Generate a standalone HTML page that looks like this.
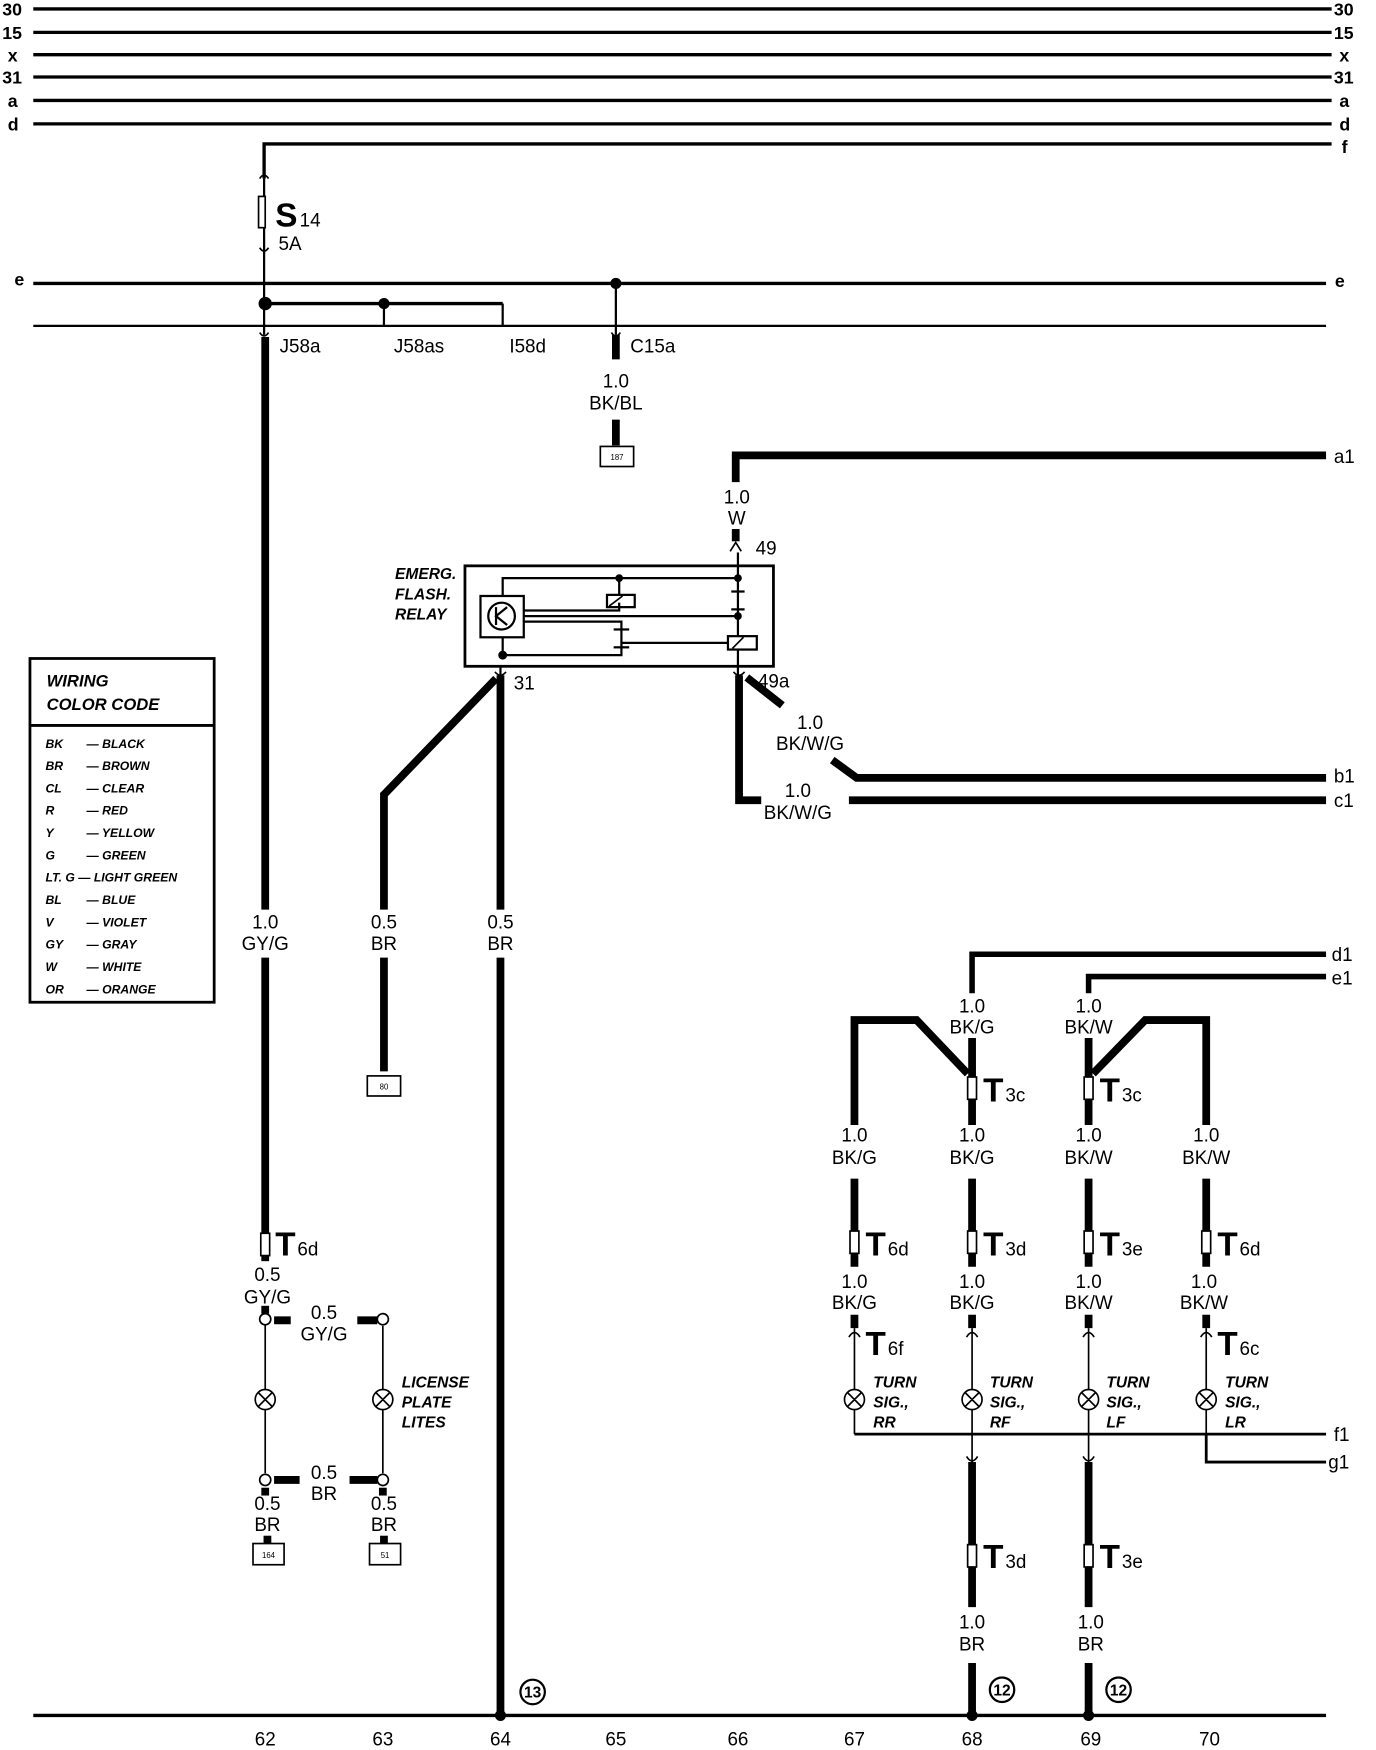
<!DOCTYPE html>
<html><head><meta charset="utf-8"><style>
html,body{margin:0;padding:0;background:#fff;}
svg{display:block;}
text{font-family:"Liberation Sans",sans-serif;fill:#000;}
.l{font-size:17px;text-anchor:middle;}
.b{font-size:17px;font-weight:bold;}
.it{font-size:14px;font-weight:bold;font-style:italic;}
.cc{font-size:11px;font-style:italic;font-weight:bold;}
.T{font-size:30px;font-weight:bold;}
.sub{font-size:17px;}
</style></head><body>
<svg width="1376" height="1750" viewBox="0 0 1240 1568" preserveAspectRatio="none" xmlns="http://www.w3.org/2000/svg">
<g stroke="#000" fill="none">
<g stroke-width="3">
<line x1="30" y1="8" x2="1200" y2="8"/><line x1="30" y1="29" x2="1200" y2="29"/>
<line x1="30" y1="49" x2="1200" y2="49"/><line x1="30" y1="69" x2="1200" y2="69"/>
<line x1="30" y1="90" x2="1200" y2="90"/><line x1="30" y1="111" x2="1200" y2="111"/>
<polyline points="238,160 238,129 1200,129"/>
<line x1="30" y1="254" x2="1195" y2="254"/>
<line x1="30" y1="292" x2="1195" y2="292" stroke-width="2"/>
<line x1="30" y1="1537" x2="1195" y2="1537"/>
<line x1="239" y1="272" x2="453" y2="272"/>
</g>
<line x1="238" y1="160" x2="238" y2="300" stroke-width="2"/>
<line x1="453" y1="272" x2="453" y2="292" stroke-width="2"/>
<line x1="346" y1="272" x2="346" y2="292" stroke-width="2"/>
<line x1="555" y1="254" x2="555" y2="300" stroke-width="2"/>
<rect x="233" y="176" width="6" height="28" fill="#fff" stroke-width="1.5"/>
<path d="M234,160 q4,-6 8,0 M234,222 q4,6 8,0 M234,298 q4,6 8,0 M551,298 q4,6 8,0" stroke-width="1.5"/>
<g stroke-width="7">
<line x1="239" y1="302" x2="239" y2="815"/><line x1="239" y1="858" x2="239" y2="1105"/>
<line x1="555" y1="300" x2="555" y2="322"/><line x1="555" y1="376" x2="555" y2="399"/>
<polyline points="663,432 663,408 1195,408"/><line x1="663" y1="474" x2="663" y2="485"/>
<polyline points="447,608 346,712 346,815"/><line x1="346" y1="858" x2="346" y2="960"/>
<line x1="451" y1="605" x2="451" y2="815"/><line x1="451" y1="858" x2="451" y2="1537"/>
<polyline points="666,605 666,717 686,717"/><line x1="765" y1="717" x2="1195" y2="717"/>
<line x1="673" y1="607" x2="705" y2="632"/>
<polyline points="750,681 772,697 1195,697"/>
<polyline points="876,890 876,855 1195,855" stroke-width="5"/>
<polyline points="981,890 981,875 1195,875" stroke-width="5"/>
<polyline points="770,1008 770,914 826,914 872,962"/>
<polyline points="1087,1008 1087,914 1032,914 985,962"/>
<line x1="876" y1="930" x2="876" y2="1008"/><line x1="981" y1="930" x2="981" y2="1008"/>
<line x1="770" y1="1056" x2="770" y2="1135"/><line x1="876" y1="1056" x2="876" y2="1135"/>
<line x1="981" y1="1056" x2="981" y2="1135"/><line x1="1087" y1="1056" x2="1087" y2="1135"/>
<line x1="770" y1="1178" x2="770" y2="1190"/><line x1="876" y1="1178" x2="876" y2="1190"/>
<line x1="981" y1="1178" x2="981" y2="1190"/><line x1="1087" y1="1178" x2="1087" y2="1190"/>
<line x1="876" y1="1310" x2="876" y2="1440"/><line x1="981" y1="1310" x2="981" y2="1440"/>
<line x1="876" y1="1490" x2="876" y2="1537"/><line x1="981" y1="1490" x2="981" y2="1537"/>
<line x1="247" y1="1183" x2="262" y2="1183"/><line x1="322" y1="1183" x2="340" y2="1183"/>
<line x1="247" y1="1326" x2="270" y2="1326"/><line x1="315" y1="1326" x2="340" y2="1326"/>
<line x1="239" y1="1333" x2="239" y2="1340"/><line x1="345" y1="1333" x2="345" y2="1340"/>
<line x1="241" y1="1376" x2="241" y2="1383"/><line x1="346" y1="1376" x2="346" y2="1383"/>
<line x1="239" y1="1125" x2="239" y2="1130"/><line x1="239" y1="1170" x2="239" y2="1177"/>
</g>
<g stroke-width="1.5">
<line x1="239" y1="1187" x2="239" y2="1320"/><line x1="345" y1="1188" x2="345" y2="1320"/>
<line x1="770" y1="1190" x2="770" y2="1285"/><line x1="876" y1="1190" x2="876" y2="1310"/>
<line x1="981" y1="1190" x2="981" y2="1310"/><line x1="1087" y1="1190" x2="1087" y2="1310"/>
<polyline points="770,1285 1195,1285" stroke-width="2.5"/>
<polyline points="1087,1285 1087,1310 1195,1310" stroke-width="2.5"/>
</g>
<rect x="419" y="507" width="278" height="90" stroke-width="2.5"/>
<g stroke-width="2">
<line x1="665" y1="495" x2="665" y2="605"/>
<polyline points="453,534 453,518 665,518"/>
<rect x="433" y="534" width="39" height="37"/>
<circle cx="452" cy="552" r="12"/>
<path d="M447,544 v16 M457,544 l-10,8 l10,8"/>
<polyline points="472,547 558,547 558,540"/>
<line x1="558" y1="518" x2="558" y2="533"/>
<rect x="547" y="533" width="25" height="11"/>
<line x1="472" y1="552" x2="665" y2="552"/>
<polyline points="472,557 560,557 560,587 453,587 453,571"/>
<line x1="560" y1="576" x2="656" y2="576"/>
<rect x="656" y="570" width="26" height="12" fill="#fff"/>
<line x1="553" y1="564" x2="567" y2="564"/><line x1="553" y1="580" x2="567" y2="580"/>
<line x1="659" y1="530" x2="671" y2="530"/><line x1="659" y1="546" x2="671" y2="546"/>
<line x1="451" y1="597" x2="451" y2="606"/>
</g>
<path d="M549,543 l12,-9 M660,581 l10,-10 M446,602 q5,6 10,0 M661,602 q5,6 10,0 M658,494 l5,-8 l5,8" stroke-width="1.5"/>
<rect x="27" y="590" width="166" height="308" stroke-width="2.5"/>
<line x1="27" y1="650" x2="193" y2="650" stroke-width="2.5"/>
<g fill="#fff" stroke-width="1.5">
<rect x="541" y="400" width="30" height="18"/>
<rect x="331" y="964" width="30" height="18"/>
<rect x="228" y="1383" width="28" height="19"/>
<rect x="333" y="1383" width="28" height="19"/>
</g>
<circle cx="480" cy="1516" r="11" stroke-width="2"/>
<circle cx="903" cy="1514" r="11" stroke-width="2"/>
<circle cx="1008" cy="1514" r="11" stroke-width="2"/>
<g stroke-width="1.5" fill="#fff">
<circle cx="239" cy="1254" r="9"/><circle cx="345" cy="1254" r="9"/>
<circle cx="770" cy="1254" r="9"/><circle cx="876" cy="1254" r="9"/>
<circle cx="981" cy="1254" r="9"/><circle cx="1087" cy="1254" r="9"/>
<circle cx="239" cy="1182" r="5"/><circle cx="345" cy="1182" r="5"/>
<circle cx="239" cy="1326" r="5"/><circle cx="345" cy="1326" r="5"/>
</g>
<path stroke-width="1.5" d="M233,1248 l12,12 M245,1248 l-12,12 M339,1248 l12,12 M351,1248 l-12,12 M764,1248 l12,12 M776,1248 l-12,12 M870,1248 l12,12 M882,1248 l-12,12 M975,1248 l12,12 M987,1248 l-12,12 M1081,1248 l12,12 M1093,1248 l-12,12"/>
<path stroke-width="1.5" d="M765,1198 q5,-8 10,0 M871,1198 q5,-8 10,0 M976,1198 q5,-8 10,0 M1082,1198 q5,-8 10,0 M871,1305 q5,8 10,0 M976,1305 q5,8 10,0"/>
<g stroke-width="1.5" fill="#fff">
<rect x="235" y="1105" width="8" height="20"/>
<rect x="872" y="965" width="8" height="20"/><rect x="977" y="965" width="8" height="20"/>
<rect x="766" y="1103" width="8" height="20"/><rect x="872" y="1103" width="8" height="20"/>
<rect x="977" y="1103" width="8" height="20"/><rect x="1083" y="1103" width="8" height="20"/>
<rect x="872" y="1384" width="8" height="20"/><rect x="977" y="1384" width="8" height="20"/>
</g>
</g>
<g fill="#000">
<circle cx="555" cy="254" r="5"/><circle cx="239" cy="272" r="6"/><circle cx="346" cy="272" r="5"/>
<circle cx="558" cy="518" r="3.5"/><circle cx="665" cy="518" r="3.5"/><circle cx="665" cy="552" r="3.5"/><circle cx="453" cy="587" r="4"/>
<circle cx="451" cy="1537" r="5"/><circle cx="876" cy="1537" r="5"/><circle cx="981" cy="1537" r="5"/>
</g>
<g class="b" style="font-size:16px">
<text x="2" y="14">30</text><text x="2" y="35">15</text><text x="7" y="55">x</text><text x="2" y="75">31</text><text x="7" y="96">a</text><text x="7" y="117">d</text>
<text x="1202" y="14">30</text><text x="1202" y="35">15</text><text x="1207" y="55">x</text><text x="1202" y="75">31</text><text x="1207" y="96">a</text><text x="1207" y="117">d</text>
<text x="1209" y="137">f</text><text x="13" y="256">e</text><text x="1203" y="257">e</text>
</g>
<text x="248" y="203" style="font-size:30px;font-weight:bold">S</text><text x="270" y="203" class="sub">14</text>
<text x="251" y="224" class="sub">5A</text>
<g class="sub">
<text x="252" y="316">J58a</text><text x="355" y="316">J58as</text><text x="459" y="316">I58d</text><text x="568" y="316">C15a</text>
<text x="681" y="497">49</text><text x="463" y="618">31</text><text x="683" y="616">49a</text>
<text x="1202" y="415">a1</text><text x="1202" y="701">b1</text><text x="1202" y="723">c1</text>
<text x="1200" y="861">d1</text><text x="1200" y="882">e1</text><text x="1202" y="1291">f1</text><text x="1197" y="1316">g1</text>
</g>
<g class="l">
<text x="555" y="347">1.0</text><text x="555" y="367">BK/BL</text>
<text x="664" y="451">1.0</text><text x="664" y="470">W</text>
<text x="730" y="653">1.0</text><text x="730" y="672">BK/W/G</text>
<text x="719" y="714">1.0</text><text x="719" y="734">BK/W/G</text>
<text x="239" y="832">1.0</text><text x="239" y="851">GY/G</text>
<text x="346" y="832">0.5</text><text x="346" y="851">BR</text>
<text x="451" y="832">0.5</text><text x="451" y="851">BR</text>
<text x="876" y="907">1.0</text><text x="876" y="926">BK/G</text>
<text x="981" y="907">1.0</text><text x="981" y="926">BK/W</text>
<text x="770" y="1023">1.0</text><text x="770" y="1043">BK/G</text>
<text x="876" y="1023">1.0</text><text x="876" y="1043">BK/G</text>
<text x="981" y="1023">1.0</text><text x="981" y="1043">BK/W</text>
<text x="1087" y="1023">1.0</text><text x="1087" y="1043">BK/W</text>
<text x="770" y="1154">1.0</text><text x="770" y="1173">BK/G</text>
<text x="876" y="1154">1.0</text><text x="876" y="1173">BK/G</text>
<text x="981" y="1154">1.0</text><text x="981" y="1173">BK/W</text>
<text x="1085" y="1154">1.0</text><text x="1085" y="1173">BK/W</text>
<text x="241" y="1148">0.5</text><text x="241" y="1168">GY/G</text>
<text x="292" y="1182">0.5</text><text x="292" y="1201">GY/G</text>
<text x="292" y="1325">0.5</text><text x="292" y="1344">BR</text>
<text x="241" y="1353">0.5</text><text x="241" y="1372">BR</text>
<text x="346" y="1353">0.5</text><text x="346" y="1372">BR</text>
<text x="876" y="1459">1.0</text><text x="876" y="1479">BR</text>
<text x="983" y="1459">1.0</text><text x="983" y="1479">BR</text>
<text x="239" y="1564">62</text><text x="345" y="1564">63</text><text x="451" y="1564">64</text><text x="555" y="1564">65</text><text x="665" y="1564">66</text><text x="770" y="1564">67</text><text x="876" y="1564">68</text><text x="983" y="1564">69</text><text x="1090" y="1564">70</text>
</g>
<g style="font-size:14px;text-anchor:middle;font-weight:bold">
<text x="480" y="1521">13</text><text x="903" y="1519">12</text><text x="1008" y="1519">12</text>
</g>
<g style="font-size:7px;text-anchor:middle">
<text x="556" y="412">187</text><text x="346" y="976">80</text><text x="242" y="1396">164</text><text x="347" y="1396">51</text>
</g>
<g>
<text x="248" y="1125" class="T">T</text><text x="268" y="1125" class="sub">6d</text>
<text x="886" y="987" class="T">T</text><text x="906" y="987" class="sub">3c</text>
<text x="991" y="987" class="T">T</text><text x="1011" y="987" class="sub">3c</text>
<text x="780" y="1125" class="T">T</text><text x="800" y="1125" class="sub">6d</text>
<text x="886" y="1125" class="T">T</text><text x="906" y="1125" class="sub">3d</text>
<text x="991" y="1125" class="T">T</text><text x="1011" y="1125" class="sub">3e</text>
<text x="1097" y="1125" class="T">T</text><text x="1117" y="1125" class="sub">6d</text>
<text x="780" y="1214" class="T">T</text><text x="800" y="1214" class="sub">6f</text>
<text x="1097" y="1214" class="T">T</text><text x="1117" y="1214" class="sub">6c</text>
<text x="886" y="1405" class="T">T</text><text x="906" y="1405" class="sub">3d</text>
<text x="991" y="1405" class="T">T</text><text x="1011" y="1405" class="sub">3e</text>
</g>
<g class="it">
<text x="356" y="519">EMERG.</text><text x="356" y="537">FLASH.</text><text x="356" y="555">RELAY</text>
<text x="362" y="1243">LICENSE</text><text x="362" y="1261">PLATE</text><text x="362" y="1279">LITES</text>
<text x="787" y="1243">TURN</text><text x="787" y="1261">SIG.,</text><text x="787" y="1279">RR</text>
<text x="892" y="1243">TURN</text><text x="892" y="1261">SIG.,</text><text x="892" y="1279">RF</text>
<text x="997" y="1243">TURN</text><text x="997" y="1261">SIG.,</text><text x="997" y="1279">LF</text>
<text x="1104" y="1243">TURN</text><text x="1104" y="1261">SIG.,</text><text x="1104" y="1279">LR</text>
</g>
<text x="42" y="615" class="it" style="font-size:15px">WIRING</text>
<text x="42" y="636" class="it" style="font-size:15px">COLOR CODE</text>
<g class="cc">
<text x="41" y="670">BK</text><text x="78" y="670">— BLACK</text>
<text x="41" y="690">BR</text><text x="78" y="690">— BROWN</text>
<text x="41" y="710">CL</text><text x="78" y="710">— CLEAR</text>
<text x="41" y="730">R</text><text x="78" y="730">— RED</text>
<text x="41" y="750">Y</text><text x="78" y="750">— YELLOW</text>
<text x="41" y="770">G</text><text x="78" y="770">— GREEN</text>
<text x="41" y="790">LT. G — LIGHT GREEN</text>
<text x="41" y="810">BL</text><text x="78" y="810">— BLUE</text>
<text x="41" y="830">V</text><text x="78" y="830">— VIOLET</text>
<text x="41" y="850">GY</text><text x="78" y="850">— GRAY</text>
<text x="41" y="870">W</text><text x="78" y="870">— WHITE</text>
<text x="41" y="890">OR</text><text x="78" y="890">— ORANGE</text>
</g>
</svg>
</body></html>
